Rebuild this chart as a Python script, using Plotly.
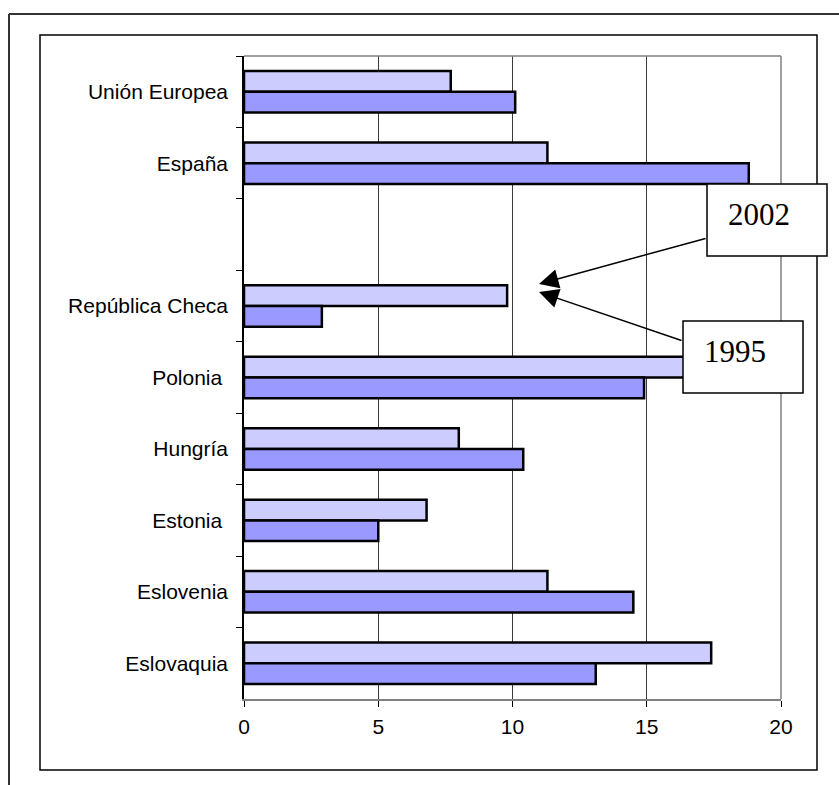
import plotly.graph_objects as go

# Categories, top to bottom (a blank row separates the two groups)
categories = ["Unión Europea", "España", " ", "República Checa", "Polonia\u00a0",
              "Hungría", "Estonia\u00a0", "Eslovenia", "Eslovaquia"]
values_2002 = [7.7, 11.3, None, 9.8, 17.0, 8.0, 6.8, 11.3, 17.4]
values_1995 = [10.1, 18.8, None, 2.9, 14.9, 10.4, 5.0, 14.5, 13.1]
x_ticks = [0, 5, 10, 15, 20]

W, H = 839, 785
PL, PR, PT, PB = 244, 781, 56, 699  # plot area edges in page pixels


def px(x):
    return (x - PL) / (PR - PL)


def py(y):
    return (PB - y) / (PB - PT)


fig = go.Figure()
fig.add_trace(go.Bar(
    y=categories, x=values_2002, orientation="h", name="2002",
    marker=dict(color="#CCCCFF", line=dict(color="#000000", width=2.5)),
))
fig.add_trace(go.Bar(
    y=categories, x=values_1995, orientation="h", name="1995",
    marker=dict(color="#9999FF", line=dict(color="#000000", width=2.5)),
))

shapes = [
    # outer frame (top and left edges)
    dict(type="line", xref="paper", yref="paper", x0=px(9), x1=px(839), y0=py(14), y1=py(14),
         line=dict(color="#333333", width=2)),
    dict(type="line", xref="paper", yref="paper", x0=px(9), x1=px(9), y0=py(14), y1=py(785),
         line=dict(color="#333333", width=2)),
    # chart area box
    dict(type="rect", xref="paper", yref="paper", x0=px(40), x1=px(817), y0=py(770), y1=py(35),
         line=dict(color="#000000", width=1.5), layer="below"),
    # plot area top and right borders
    dict(type="line", xref="paper", yref="paper", x0=0, x1=1, y0=1, y1=1,
         line=dict(color="#808080", width=1.5)),
    dict(type="line", xref="paper", yref="paper", x0=1, x1=1, y0=0, y1=1,
         line=dict(color="#808080", width=1.5)),
    # label boxes
    dict(type="rect", xref="paper", yref="paper", x0=px(707), x1=px(827), y0=py(256), y1=py(184),
         line=dict(color="#000000", width=1.5), fillcolor="#FFFFFF", layer="above"),
    dict(type="rect", xref="paper", yref="paper", x0=px(683), x1=px(803), y0=py(393), y1=py(321),
         line=dict(color="#000000", width=1.5), fillcolor="#FFFFFF", layer="above"),
]

annotations = [
    dict(xref="paper", yref="paper", x=px(758.5), y=py(215), text="2002", showarrow=False,
         font=dict(family="Liberation Serif", size=31, color="#000000"),
         xanchor="center", yanchor="middle"),
    dict(xref="paper", yref="paper", x=px(735), y=py(352), text="1995", showarrow=False,
         font=dict(family="Liberation Serif", size=31, color="#000000"),
         xanchor="center", yanchor="middle"),
    dict(xref="paper", yref="paper", x=px(539), y=py(284), text="", showarrow=True,
         ax=168, ay=-46, arrowhead=2, arrowsize=2.6, arrowwidth=1.5, arrowcolor="#000000",
         standoff=0),
    dict(xref="paper", yref="paper", x=px(539), y=py(292), text="", showarrow=True,
         ax=144, ay=49, arrowhead=2, arrowsize=2.6, arrowwidth=1.5, arrowcolor="#000000",
         standoff=0),
]

fig.update_layout(
    width=W, height=H,
    margin=dict(l=PL, r=W - PR, t=PT, b=H - PB, pad=0),
    paper_bgcolor="#FFFFFF", plot_bgcolor="#FFFFFF",
    barmode="group", bargap=0.42, bargroupgap=0,
    showlegend=False,
    font=dict(family="Liberation Sans, Arial, sans-serif", size=21, color="#000000"),
    shapes=shapes, annotations=annotations,
    xaxis=dict(
        range=[0, 20], tickvals=x_ticks, ticktext=[str(v) for v in x_ticks],
        showgrid=True, gridcolor="#3a3a3a", gridwidth=1,
        showline=True, linecolor="#808080", linewidth=1.5,
        ticks="outside", ticklen=6, tickcolor="#000000", tickwidth=1,
        ticklabelstandoff=2, zeroline=False, fixedrange=True,
    ),
    yaxis=dict(
        type="category", categoryorder="array", categoryarray=categories,
        autorange="reversed", showgrid=False,
        showline=True, linecolor="#000000", linewidth=1.5,
        ticks="outside", ticklen=6, tickcolor="#000000", tickwidth=1,
        tickson="boundaries", ticklabelstandoff=10, fixedrange=True,
    ),
)

fig.write_html("out.html")
